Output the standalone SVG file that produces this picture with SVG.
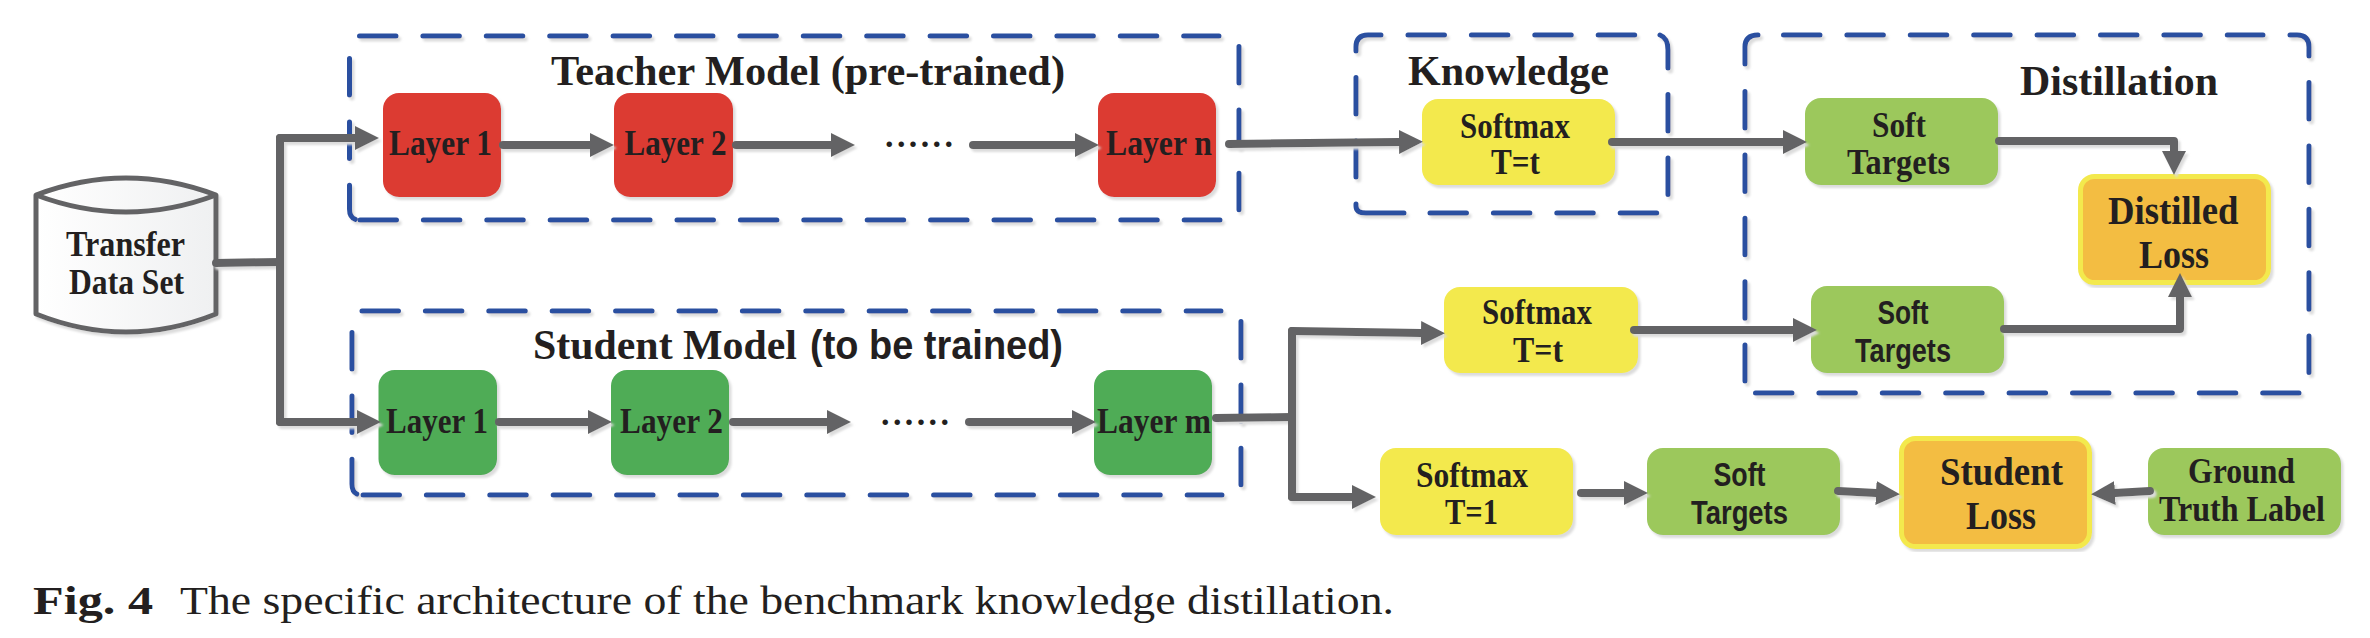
<svg xmlns="http://www.w3.org/2000/svg" width="2370" height="638" viewBox="0 0 2370 638">
<style>
text{font-family:"Liberation Serif","Times New Roman",serif;font-weight:bold;fill:#231f20;font-size:35px;transform:translateY(1px)}
.sans{font-family:"Liberation Sans",Arial,sans-serif;font-size:33px}
.title{font-size:43px}
.titlesans{font-family:"Liberation Sans",Arial,sans-serif;font-size:41px}
.loss{font-size:41px}
.cap{font-weight:normal;font-size:40px;transform:none}
.capb{font-size:40px;transform:none}
.dots{font-size:34px;transform:none}
.dash{fill:none;stroke:#2b50a0;stroke-width:5;stroke-linecap:round;stroke-dasharray:36.5 26.9}
.solid{stroke-dasharray:none}
.red{fill:#dc3a32}.green{fill:#4fac57}.lime{fill:#9cc85c}.yellow{fill:#f3e94d}
.orange{fill:#f3bd42;stroke:#f3e94d;stroke-width:5}
.sh{filter:url(#shadow)}
.conn{fill:none;stroke:#636365;stroke-width:8;stroke-linecap:round;stroke-linejoin:round}
.arrow{marker-end:url(#head)}
</style>
<defs>
<filter id="shadow" x="-5%" y="-5%" width="110%" height="110%"><feDropShadow dx="2.5" dy="3" stdDeviation="0.8" flood-color="#dcdcdc"/></filter>
<linearGradient id="cyl" x1="0" x2="1" y1="0" y2="0"><stop offset="0" stop-color="#ffffff"/><stop offset="1" stop-color="#eff0f1"/></linearGradient>
<marker id="head" markerUnits="userSpaceOnUse" markerWidth="25" markerHeight="26" refX="0" refY="12.5" orient="auto"><path d="M0 0.5 L24 12.5 L0 24.5 Z" fill="#636365"/></marker>
</defs>
<rect width="2370" height="638" fill="#ffffff"/>

<g id="teacher-model">
<g class="sh">
<path class="dash" d="M359.5 36H1219"/>
<path class="dash" d="M1239 46.500V210"/>
<path class="dash" d="M349.5 58.500V209Q349.5 219 358 220"/>
<path class="dash" d="M360 220H1220"/>
</g>
<text class="title" x="551" y="84" textLength="514" lengthAdjust="spacingAndGlyphs">Teacher Model (pre-trained)</text>
</g>
<g id="student-model">
<g class="sh">
<path class="dash" d="M362 311H1221"/>
<path class="dash" d="M1241 321.500V485"/>
<path class="dash" d="M352 332.500V484Q352 494 360 495"/>
<path class="dash" d="M363 495H1222"/>
</g>
<text class="title" x="533" y="358" textLength="264" lengthAdjust="spacingAndGlyphs">Student Model</text>
<text class="titlesans" x="810" y="358" textLength="253" lengthAdjust="spacingAndGlyphs">(to be trained)</text>
</g>
<g id="knowledge">
<g class="sh">
<path class="dash solid" d="M1356 51V47Q1356 35 1368 35H1381"/>
<path class="dash" d="M1408 35H1635"/>
<path class="dash solid" d="M1660 35Q1668 38 1668 50V68"/>
<path class="dash" d="M1668 94.500V195"/>
<path class="dash" d="M1356 77.500V177"/>
<path class="dash solid" d="M1356 204V206Q1356 213 1366 213H1404"/>
<path class="dash" d="M1430 213H1657"/>
</g>
<text class="title" x="1408" y="84" textLength="201" lengthAdjust="spacingAndGlyphs">Knowledge</text>
</g>
<g id="distillation">
<g class="sh">
<path class="dash solid" d="M1745 64V47Q1745 35 1758 35"/>
<path class="dash" d="M1783.500 35H2263"/>
<path class="dash solid" d="M2290 35H2297Q2309 35 2309 47V56"/>
<path class="dash" d="M2309 82.500V373"/>
<path class="dash" d="M1745 91.500V381"/>
<path class="dash" d="M1755.500 393H2299"/>
</g>
<text class="title" x="2020" y="94" textLength="198" lengthAdjust="spacingAndGlyphs">Distillation</text>
</g>

<g id="transfer-data-set">
<path class="sh" d="M36 195Q126 161 216 195V314Q126 350 36 314Z" fill="url(#cyl)" stroke="#636365" stroke-width="5" stroke-linejoin="round"/>
<path d="M36 195Q126 229 216 195" fill="none" stroke="#636365" stroke-width="5"/>
<text x="66" y="255" textLength="119" lengthAdjust="spacingAndGlyphs">Transfer</text>
<text x="69" y="293" textLength="115" lengthAdjust="spacingAndGlyphs">Data Set</text>
</g>

<g id="teacher-layer-1"><rect class="red sh" x="383" y="93" width="118" height="104" rx="16"/><text x="389" y="154" textLength="103" lengthAdjust="spacingAndGlyphs">Layer 1</text></g>
<g id="teacher-layer-2"><rect class="red sh" x="614" y="93" width="119" height="104" rx="16"/><text x="624.5" y="154" textLength="102" lengthAdjust="spacingAndGlyphs">Layer 2</text></g>
<g id="teacher-dots"><text class="dots" x="885" y="147" textLength="68">......</text></g>
<g id="teacher-layer-n"><rect class="red sh" x="1098" y="93" width="118" height="104" rx="16"/><text x="1106" y="154" textLength="106" lengthAdjust="spacingAndGlyphs">Layer n</text></g>

<g id="student-layer-1"><rect class="green sh" x="378.500" y="370" width="118.500" height="105" rx="16"/><text x="386" y="432" textLength="102" lengthAdjust="spacingAndGlyphs">Layer 1</text></g>
<g id="student-layer-2"><rect class="green sh" x="611" y="370" width="118" height="105" rx="16"/><text x="620" y="432" textLength="103" lengthAdjust="spacingAndGlyphs">Layer 2</text></g>
<g id="student-dots"><text class="dots" x="881" y="425" textLength="68">......</text></g>
<g id="student-layer-m"><rect class="green sh" x="1094" y="370" width="118" height="105" rx="16"/><text x="1097" y="432" textLength="114" lengthAdjust="spacingAndGlyphs">Layer m</text></g>

<g id="softmax-teacher"><rect class="yellow sh" x="1422" y="99" width="193" height="86" rx="16"/><text x="1460" y="137" textLength="110" lengthAdjust="spacingAndGlyphs">Softmax</text><text x="1491" y="173" textLength="49" lengthAdjust="spacingAndGlyphs">T=t</text></g>
<g id="softmax-student-t"><rect class="yellow sh" x="1444" y="287" width="194" height="86" rx="16"/><text x="1482" y="323" textLength="110" lengthAdjust="spacingAndGlyphs">Softmax</text><text x="1513" y="361" textLength="50" lengthAdjust="spacingAndGlyphs">T=t</text></g>
<g id="softmax-student-1"><rect class="yellow sh" x="1380" y="448" width="193" height="87" rx="16"/><text x="1416" y="486" textLength="112" lengthAdjust="spacingAndGlyphs">Softmax</text><text x="1445" y="523" textLength="53" lengthAdjust="spacingAndGlyphs">T=1</text></g>

<g id="soft-targets-teacher"><rect class="lime sh" x="1805" y="98" width="193" height="87" rx="16"/><text x="1872" y="136" textLength="54" lengthAdjust="spacingAndGlyphs">Soft</text><text x="1847" y="173" textLength="103" lengthAdjust="spacingAndGlyphs">Targets</text></g>
<g id="soft-targets-student"><rect class="lime sh" x="1811" y="286" width="193" height="87" rx="16"/><text class="sans" x="1877.500" y="323" textLength="51" lengthAdjust="spacingAndGlyphs">Soft</text><text class="sans" x="1855" y="361" textLength="96" lengthAdjust="spacingAndGlyphs">Targets</text></g>
<g id="soft-targets-hard"><rect class="lime sh" x="1647" y="448" width="193" height="87" rx="16"/><text class="sans" x="1713.500" y="485" textLength="52" lengthAdjust="spacingAndGlyphs">Soft</text><text class="sans" x="1691" y="523" textLength="97" lengthAdjust="spacingAndGlyphs">Targets</text></g>
<g id="ground-truth-label"><rect class="lime sh" x="2148" y="448" width="193" height="87" rx="16"/><text x="2188" y="482" textLength="107" lengthAdjust="spacingAndGlyphs">Ground</text><text x="2159" y="520" textLength="166" lengthAdjust="spacingAndGlyphs">Truth Label</text></g>

<g id="distilled-loss"><rect class="orange sh" x="2080.500" y="176.500" width="188" height="106" rx="14"/><text class="loss" x="2108" y="223" textLength="130.500" lengthAdjust="spacingAndGlyphs">Distilled</text><text class="loss" x="2139" y="267" textLength="70" lengthAdjust="spacingAndGlyphs">Loss</text></g>
<g id="student-loss"><rect class="orange sh" x="1901.500" y="438.500" width="188" height="108" rx="14"/><text class="loss" x="1940" y="484" textLength="123" lengthAdjust="spacingAndGlyphs">Student</text><text class="loss" x="1966" y="528" textLength="70" lengthAdjust="spacingAndGlyphs">Loss</text></g>

<g id="connectors" class="sh">
<path class="conn" d="M216 263L280 262"/>
<path class="conn" d="M280 138V422"/>
<path class="conn arrow" d="M280 138H355"/>
<path class="conn arrow" d="M280 422H357"/>
<path class="conn arrow" d="M503 145H590"/>
<path class="conn arrow" d="M736 145H831"/>
<path class="conn arrow" d="M973 145H1075"/>
<path class="conn arrow" d="M1229 144L1399 142"/>
<path class="conn arrow" d="M1612 142H1783"/>
<path class="conn arrow" d="M1999 141H2174V151"/>
<path class="conn arrow" d="M2004 329H2180V297"/>
<path class="conn arrow" d="M1634 330H1793"/>
<path class="conn arrow" d="M499 422H588"/>
<path class="conn arrow" d="M733 422H827"/>
<path class="conn arrow" d="M969 422H1072"/>
<path class="conn" d="M1216 418L1292 417"/>
<path class="conn" d="M1292 331V497"/>
<path class="conn arrow" d="M1292 331L1421 333"/>
<path class="conn arrow" d="M1292 497H1352"/>
<path class="conn arrow" d="M1581 493H1624"/>
<path class="conn arrow" d="M1838 491L1876 493"/>
<path class="conn arrow" d="M2150 491L2115 493"/>
</g>

<g id="caption">
<text class="capb" x="33" y="614" textLength="120" lengthAdjust="spacingAndGlyphs">Fig. 4</text>
<text class="cap" x="180" y="614" textLength="1214" lengthAdjust="spacingAndGlyphs">The specific architecture of the benchmark knowledge distillation.</text>
</g>
</svg>
